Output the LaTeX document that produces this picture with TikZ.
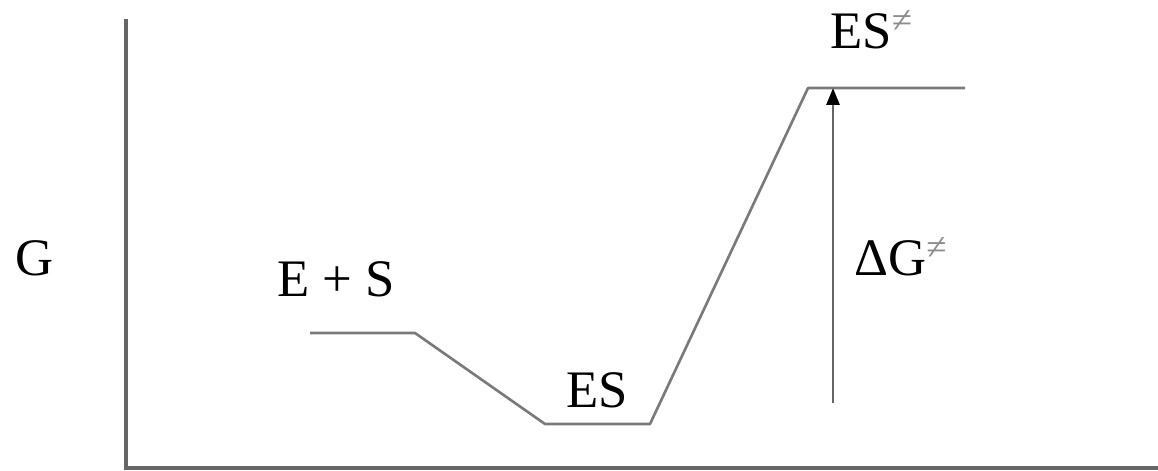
\documentclass[tikz,border=0pt]{standalone}
\usepackage{fontspec}
\setmainfont{Liberation Serif}
\usetikzlibrary{arrows.meta}

\begin{document}
\begin{tikzpicture}[
  x=0.02cm, y=-0.02cm,
  lbl/.style={inner sep=0pt, anchor=base, font=\fontsize{30}{36}\selectfont},
  axis/.style={line width=1.8pt, draw=black!60},
  level/.style={line width=1.5pt, draw=black!52, line join=round},
  arr/.style={-{Triangle[length=3.4mm, width=2.6mm, color=black]}, line width=1.6pt, draw=black!60}
]
\useasboundingbox (0,0) rectangle (1158,470);
% axes
\coordinate (origin) at (126,468);
\coordinate (ytop) at (126,19);
\coordinate (xend) at (1158,468);
\draw[axis] (ytop) -- (origin) -- (xend);
% energy levels
\coordinate (es0) at (310,333);
\coordinate (es1) at (415,333);
\coordinate (cx0) at (545,424);
\coordinate (cx1) at (650,424);
\coordinate (ts0) at (808,88);
\coordinate (ts1) at (965,88);
\draw[level] (es0) -- (es1) -- (cx0) -- (cx1) -- (ts0) -- (ts1);
% activation energy
\coordinate (base) at (833,403);
\coordinate (peak) at (833,88);
\draw[arr] (base) -- (peak);
\node[lbl] (g) at (35,275) {G};
\node[lbl] (free) at (336,296) {E + S};
\node[lbl] (cplx) at (597,407) {ES};
\node[lbl, anchor=base west] (trans) at (830,48) {ES\textsuperscript{\color{black!45}≠}};
\node[lbl, anchor=base west] (dg) at (854,275) {ΔG\textsuperscript{\color{black!45}≠}};
\end{tikzpicture}
\end{document}
